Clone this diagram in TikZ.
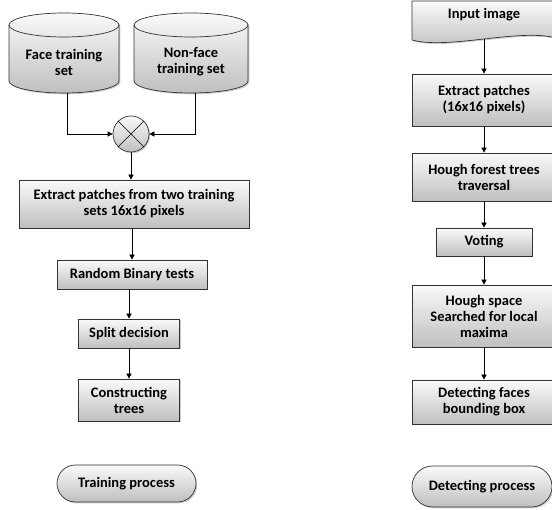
\documentclass[tikz,border=0pt]{standalone}
\usepackage{fontspec}
\setmainfont{Carlito}
\usetikzlibrary{shadows,arrows.meta,shapes.misc}

\tikzset{
  boxfill/.style={draw=black!80, line width=0.7pt, top color=gray!4, bottom color=gray!50,
    drop shadow={shadow xshift=1.3pt, shadow yshift=-1.3pt, opacity=0.4}},
  boxtext/.style={align=center, font=\bfseries\fontsize{14.5}{16}\selectfont, inner sep=0pt},
  procbox/.style={boxfill, boxtext, rectangle},
  pillbox/.style={boxfill, boxtext, rounded rectangle},
  flow/.style={-{Triangle[length=5pt,width=5pt]}, line width=0.7pt},
}

\begin{document}
\begin{tikzpicture}[x=1pt, y=-1pt]
  \useasboundingbox (0,0) rectangle (552,510);

  % Training data bases
  \path[boxfill] (9,25) -- (9,81) arc[start angle=180, end angle=360, x radius=55pt, y radius=12pt]
    -- (119,25) arc[start angle=0, end angle=180, x radius=55pt, y radius=12pt] -- cycle;
  \draw[draw=black!80, line width=0.7pt] (9,25) arc[start angle=180, end angle=360, x radius=55pt, y radius=12pt];
  \node[boxtext] (face) at (64,62) {Face training\\set};
  \coordinate (face-bot) at (67,93);

  \path[boxfill] (134,25) -- (134,81) arc[start angle=180, end angle=360, x radius=57pt, y radius=12pt]
    -- (248,25) arc[start angle=0, end angle=180, x radius=57pt, y radius=12pt] -- cycle;
  \draw[draw=black!80, line width=0.7pt] (134,25) arc[start angle=180, end angle=360, x radius=57pt, y radius=12pt];
  \node[boxtext] (nonface) at (191,62) {Non-face\\training set};
  \coordinate (nonface-bot) at (195,93);

  % Merge point
  \node[circle, boxfill, minimum size=36pt, inner sep=0pt] (mix) at (131,134) {};
  \draw[line width=0.7pt] (mix.north west) -- (mix.south east);
  \draw[line width=0.7pt] (mix.north east) -- (mix.south west);

  % Training process
  \node[procbox, minimum width=230pt, minimum height=48pt] (extract) at (134,204)
    {Extract patches from two training\\sets 16x16 pixels};
  \node[procbox, minimum width=150pt, minimum height=29pt] (random) at (132,274.5) {Random Binary tests};
  \node[procbox, minimum width=101pt, minimum height=29pt] (split) at (129,333.5) {Split decision};
  \node[procbox, minimum width=101pt, minimum height=42pt] (construct) at (129,400) {Constructing\\trees};
  \node[pillbox, minimum width=139pt, minimum height=37pt] (training) at (126.5,483.5) {Training process};

  % Detecting process
  \path[boxfill] (412,1) -- (556,1) -- (556,38) .. controls (520,28) and (448,50) .. (412,40) -- cycle;
  \node[boxtext] (input) at (484,15) {Input image};
  \coordinate (input-bot) at (484,39);

  \node[procbox, minimum width=144pt, minimum height=52pt] (patches) at (484,100) {Extract patches\\(16x16 pixels)};
  \node[procbox, minimum width=144pt, minimum height=48pt] (forest) at (484,177) {Hough forest trees\\traversal};
  \node[procbox, minimum width=96pt, minimum height=28pt] (voting) at (484,242) {Voting};
  \node[procbox, minimum width=144pt, minimum height=62pt] (space) at (484,316) {Hough space\\Searched for local\\maxima};
  \node[procbox, minimum width=144pt, minimum height=44pt] (detect) at (484,402) {Detecting faces\\bounding box};
  \node[pillbox, minimum width=140pt, minimum height=41pt] (detecting) at (482,486.5) {Detecting process};

  % Connectors
  \draw[flow] (face-bot) |- (mix.west);
  \draw[flow] (nonface-bot) |- (mix.east);
  \draw[flow] (mix.south) -- (mix.south |- extract.north);
  \draw[flow] (extract.south -| random.north) -- (random.north);
  \draw[flow] (random.south -| split.north) -- (split.north);
  \draw[flow] (split.south) -- (construct.north);

  \draw[flow] (input-bot) -- (patches.north);
  \draw[flow] (patches.south) -- (forest.north);
  \draw[flow] (forest.south) -- (voting.north);
  \draw[flow] (voting.south) -- (space.north);
  \draw[flow] (space.south) -- (detect.north);
\end{tikzpicture}
\end{document}
